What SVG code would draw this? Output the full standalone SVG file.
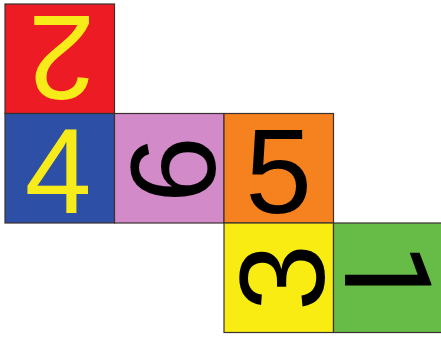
<svg xmlns="http://www.w3.org/2000/svg" width="441" height="338" viewBox="0 0 441 338">
<style>
.sq{stroke:#3a3030;stroke-width:1.2}
.d{font-family:"Liberation Sans",Arial,sans-serif;font-size:120px;text-anchor:middle}
.r{font-family:Roboto,"Open Sans",sans-serif}
.y{fill:#f7ec1a}
.k{fill:#000}
</style>
<rect width="441" height="338" fill="#fff"/>
<g id="face2"><rect class="sq" x="5" y="4" width="109.5" height="109.5" fill="#ed1c24"/><text class="d y" x="61.5" y="101.5" transform="rotate(180 61.5 58.5)">2</text></g>
<g id="face4"><rect class="sq" x="5" y="113.5" width="109.5" height="109.5" fill="#2e4fa6"/><text class="d y" x="58" y="212.5">4</text></g>
<g id="face6"><rect class="sq" x="114.5" y="113.5" width="109.5" height="109.5" fill="#d38ac8"/><text class="d k" x="171.5" y="212.5" transform="rotate(-90 171.5 169.5)">6</text></g>
<g id="face5"><rect class="sq" x="224" y="113.5" width="109.5" height="109.5" fill="#f5821f"/><text class="d k" x="278.5" y="212.5">5</text></g>
<g id="face3"><rect class="sq" x="224" y="223" width="109.5" height="109.5" fill="#f8ec13"/><text class="d k" x="280.5" y="320.5" transform="rotate(-90 280.5 277.5)">3</text></g>
<g id="face1"><rect class="sq" x="333.5" y="223" width="109.5" height="109.5" fill="#67bb47"/><text class="d k r" x="392.5" y="315" transform="rotate(90 388 272)">1</text></g>
</svg>
